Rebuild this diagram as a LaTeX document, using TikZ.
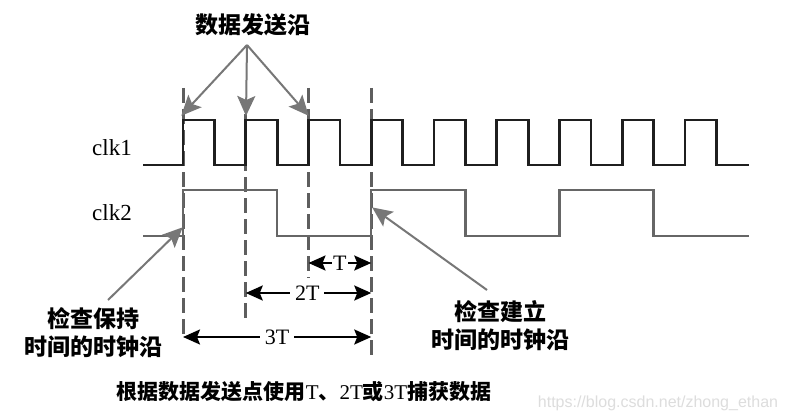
\documentclass[tikz,border=0pt]{standalone}
\usepackage{fontspec}
\setmainfont{Liberation Serif}
\newfontfamily\cjk{Noto Sans CJK SC}
\newfontfamily\wmfont{Liberation Sans}
\usetikzlibrary{arrows.meta}
\definecolor{arrowgray}{HTML}{777777}
\definecolor{dashgray}{HTML}{5E5E5E}
\definecolor{clktwo}{HTML}{666666}
\definecolor{wmgray}{HTML}{DDDDDD}
\tikzset{
  clkone/.style={line width=2.8pt, draw=black!88, line join=miter},
  clktwostyle/.style={line width=2.3pt, draw=clktwo, line join=miter},
  guide/.style={line width=3pt, draw=dashgray, dash pattern=on 15pt off 6pt},
  pointer/.style={line width=2pt, draw=arrowgray, -{Stealth[length=20pt,width=18pt,inset=4pt]}, shorten >=-1pt},
  dim/.style={line width=2.2pt, draw=black, {Stealth[length=17pt,width=15pt,inset=3pt]}-{Stealth[length=17pt,width=15pt,inset=3pt]}},
  dimlabel/.style={fill=white, inner ysep=1pt, font=\fontsize{22}{24}\selectfont},
  siglabel/.style={font=\fontsize{23}{26}\selectfont, inner sep=0pt},
  cjklabel/.style={font=\cjk\bfseries\fontsize{23}{28}\selectfont, align=center, inner sep=0pt}
}
\begin{document}
\begin{tikzpicture}[x=1pt,y=-1pt]
\useasboundingbox (0,0) rectangle (785,420);
\fill[white] (0,0) rectangle (785,420);

% dashed guide lines
\coordinate (g1t) at (183,88);  \coordinate (g1b) at (183,338);
\coordinate (g2t) at (245.75,114); \coordinate (g2b) at (245.75,320);
\coordinate (g3t) at (308.5,88); \coordinate (g3b) at (308.5,278);
\coordinate (g4t) at (371.25,88); \coordinate (g4b) at (371.25,358);
\draw[guide] (g1t) -- (g1b);
\draw[guide] (g2t) -- (g2b);
\draw[guide] (g3t) -- (g3b);
\draw[guide] (g4t) -- (g4b);

% clk1
\draw[clkone] (143,165) -- (183,165)
  \foreach \i in {0,...,8} { -- ({183+62.75*\i},165) -- ({183+62.75*\i},120) -- ({214.4+62.75*\i},120) -- ({214.4+62.75*\i},165) }
  -- (749,165);

% clk2
\draw[clktwostyle] (143,236) -- (183,236) -- (183,190) -- (277.1,190) -- (277.1,236)
  -- (371.25,236) -- (371.25,190) -- (465.4,190) -- (465.4,236)
  -- (559.5,236) -- (559.5,190) -- (653.6,190) -- (653.6,236) -- (749,236);

% signal labels
\node[siglabel] (clk1) at (112,148) {clk1};
\node[siglabel] (clk2) at (112,213) {clk2};

% top label and arrows
\node[cjklabel] (send) at (253,25) {数据发送沿};
\coordinate (sendroot) at (247,45);
\coordinate (e1) at (182,115);
\coordinate (e2) at (246,115);
\coordinate (e3) at (308,115);
\draw[pointer] (sendroot) -- (e1);
\draw[pointer] (sendroot) -- (e2);
\draw[pointer] (sendroot) -- (e3);

% hold label
\node[cjklabel] (hold) at (93,333) {检查保持\\时间的时钟沿};
\coordinate (holdroot) at (108,300);
\coordinate (holdtip) at (182,228);
\draw[pointer] (holdroot) -- (holdtip);

% setup label
\node[cjklabel] (setup) at (500,326) {检查建立\\时间的时钟沿};
\coordinate (setuproot) at (487,290);
\coordinate (setuptip) at (373,208);
\draw[pointer] (setuproot) -- (setuptip);

% dimension arrows
\coordinate (d1a) at (308.5,263); \coordinate (d1b) at (371.25,263);
\coordinate (d2a) at (245.75,293); \coordinate (d2b) at (371.25,293);
\coordinate (d3a) at (183,337); \coordinate (d3b) at (371.25,337);
\draw[dim] (d1a) -- node[dimlabel, inner xsep=1pt] (tlab) {T} (d1b);
\draw[dim] (d2a) -- node[dimlabel, inner xsep=5pt, pos=0.49] (t2lab) {2T} (d2b);
\draw[dim] (d3a) -- node[dimlabel, inner xsep=5pt, pos=0.5] (t3lab) {3T} (d3b);

% caption
\node[inner sep=0pt, font=\fontsize{21}{24}\selectfont] (caption) at (304,392)
  {{\cjk\bfseries 根据数据发送点使用}T{\cjk\bfseries 、}2T{\cjk\bfseries 或}3T{\cjk\bfseries 捕获数据}};

% watermark
\node[inner sep=0pt, text=wmgray, font=\wmfont\fontsize{16}{18}\selectfont] (wm) at (658,403) {https://blog.csdn.net/zhong\_ethan};
\end{tikzpicture}
\end{document}
